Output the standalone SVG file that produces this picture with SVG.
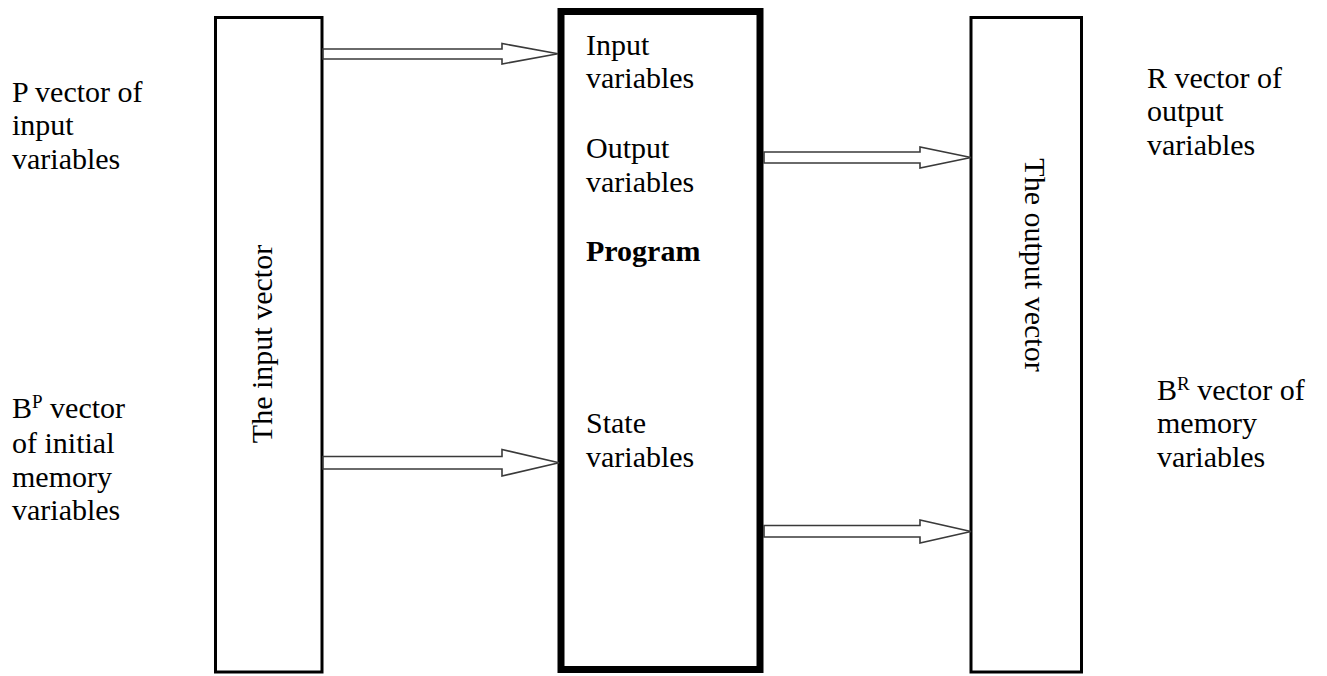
<svg xmlns="http://www.w3.org/2000/svg" width="1327" height="676" viewBox="0 0 1327 676">
  <style>
    .box { fill: #fff; stroke: #000; stroke-width: 3; }
    .box-main { fill: #fff; stroke: #000; stroke-width: 7; }
    .arrow { fill: #fff; stroke: #3a3a3a; stroke-width: 1.6; stroke-linejoin: miter; }
    text { font-family: "Liberation Serif", "Times New Roman", serif; font-size: 30px; fill: #000; }
    .bold { font-weight: bold; }
    .sup { font-size: 19px; }
  </style>

  <!-- input vector column -->
  <g id="input-vector">
    <rect class="box" x="215.5" y="17.5" width="106.5" height="654.5"/>
    <text transform="translate(272 344) rotate(-90)" text-anchor="middle">The input vector</text>
  </g>

  <!-- program block -->
  <g id="program">
    <rect class="box-main" x="561" y="11.5" width="199" height="658"/>
    <text x="586" y="55">Input</text>
    <text x="586" y="88">variables</text>
    <text x="586" y="158">Output</text>
    <text x="586" y="192">variables</text>
    <text class="bold" x="586" y="261">Program</text>
    <text x="586" y="433">State</text>
    <text x="586" y="467">variables</text>
  </g>

  <!-- output vector column -->
  <g id="output-vector">
    <rect class="box" x="971" y="17.5" width="110.5" height="654.5"/>
    <text transform="translate(1025 265) rotate(90)" text-anchor="middle">The output vector</text>
  </g>

  <!-- side labels -->
  <g id="label-p">
    <text x="12" y="102">P vector of</text>
    <text x="12" y="135">input</text>
    <text x="12" y="169">variables</text>
  </g>
  <g id="label-bp">
    <text x="12" y="418">B<tspan class="sup" dy="-10">P</tspan><tspan dy="10"> vector</tspan></text>
    <text x="12" y="453">of initial</text>
    <text x="12" y="487">memory</text>
    <text x="12" y="520">variables</text>
  </g>
  <g id="label-r">
    <text x="1147" y="88">R vector of</text>
    <text x="1147" y="121">output</text>
    <text x="1147" y="155">variables</text>
  </g>
  <g id="label-br">
    <text x="1157" y="400">B<tspan class="sup" dy="-10">R</tspan><tspan dy="10"> vector of</tspan></text>
    <text x="1157" y="433">memory</text>
    <text x="1157" y="467">variables</text>
  </g>

  <!-- block arrows -->
  <g id="connectors">
    <path class="arrow" d="M323 49 H502 V43.5 L558 53.8 L502 64 V59 H323 Z"/>
    <path class="arrow" d="M323 456.5 H502 V449.5 L559 462.8 L502 476 V469 H323 Z"/>
    <path class="arrow" d="M764 152 H920 V147 L971 157.5 L920 168 V163 H764 Z"/>
    <path class="arrow" d="M764 525.5 H920 V520 L971 531.5 L920 543 V537 H764 Z"/>
  </g>
</svg>
